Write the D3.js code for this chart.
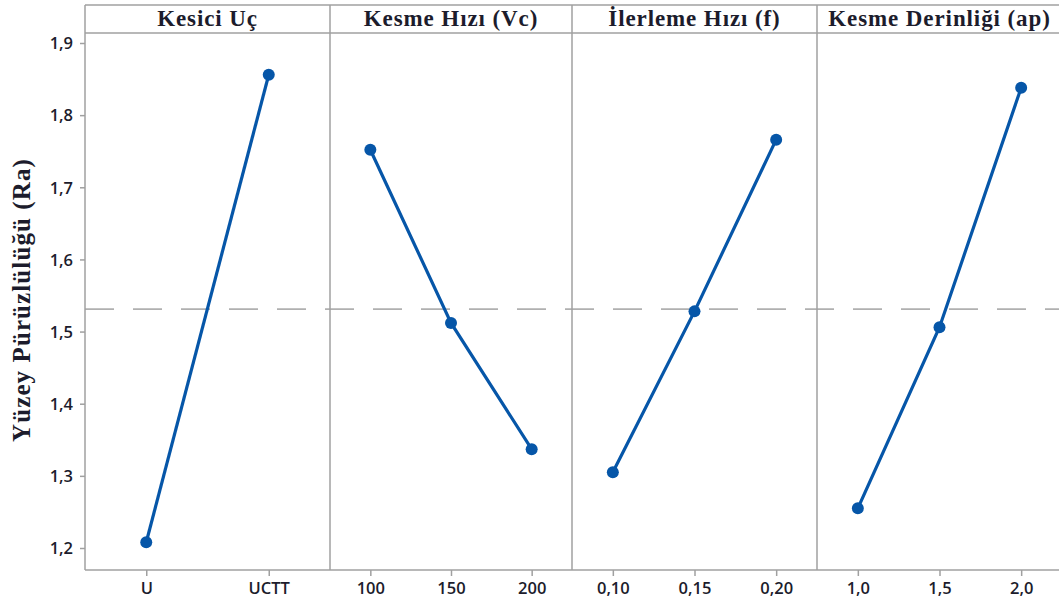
<!DOCTYPE html>
<html><head><meta charset="utf-8">
<script src="https://cdn.jsdelivr.net/npm/d3@7"></script>
<style>body{margin:0;background:#fff}</style>
</head><body>
<svg id="c" width="1059" height="606"></svg>
<script>
const panelTitles = ["Kesici Uç", "Kesme Hızı (Vc)", "İlerleme Hızı (f)", "Kesme Derinliği (ap)"];
const levels1 = ["U", "UCTT"];
const levels2 = ["100", "150", "200"];
const levels3 = ["0,10", "0,15", "0,20"];
const levels4 = ["1,0", "1,5", "2,0"];
const means1 = [1.208, 1.856];
const means2 = [1.752, 1.512, 1.337];
const means3 = [1.305, 1.528, 1.766];
const means4 = [1.255, 1.506, 1.838];
const overallMean = 1.531;
const yTicks = [1.2, 1.3, 1.4, 1.5, 1.6, 1.7, 1.8, 1.9];
const yTitle = "Yüzey Pürüzlülüğü (Ra)";

const panels = [
  {title: panelTitles[0], levels: levels1, means: means1},
  {title: panelTitles[1], levels: levels2, means: means2},
  {title: panelTitles[2], levels: levels3, means: means3},
  {title: panelTitles[3], levels: levels4, means: means4}
];

const svg = d3.select("#c");
const frameTop = 5, headerBottom = 33, frameBottom = 570;
const edges = [85, 330, 572, 817, 1062];
const y = d3.scaleLinear().domain([1.2, 1.9]).range([548, 43]);
const axisCol = "#a0a0a0";
const blue = "#0656a8";
const textCol = "#1c1c2c";

// mean dashed line
svg.append("line").attr("x1", edges[0]).attr("x2", 1062)
  .attr("y1", y(overallMean)).attr("y2", y(overallMean))
  .attr("stroke", "#b0b0b0").attr("stroke-width", 1.8).attr("stroke-dasharray", "29,19");

// y axis
const yAxis = d3.axisLeft(y).tickValues(yTicks).tickSize(5)
  .tickFormat(d => d3.format(".1f")(d).replace(".", ","));
const gy = svg.append("g").attr("transform", `translate(${edges[0]},0)`).call(yAxis);
gy.select(".domain").remove();
gy.selectAll(".tick line").attr("stroke", axisCol).attr("stroke-width", 1.5);
gy.selectAll(".tick text").attr("fill", textCol).attr("font-family", "Open Sans")
  .attr("font-weight", 600).attr("font-size", 16.5).attr("x", -12).attr("dy", "0.35em");

// y title
svg.append("text").attr("transform", "translate(30,300) rotate(-90)")
  .attr("text-anchor", "middle").attr("font-family", "Liberation Serif")
  .attr("font-weight", "bold").attr("font-size", 25).attr("letter-spacing", 1.1)
  .attr("fill", textCol).text(yTitle);

panels.forEach((p, i) => {
  const x = d3.scalePoint().domain(p.levels).range([edges[i], edges[i+1]]).padding(0.5);
  const xAxis = d3.axisBottom(x).tickSize(6);
  const gx = svg.append("g").attr("transform", `translate(0,${frameBottom})`).call(xAxis);
  gx.select(".domain").remove();
  gx.selectAll(".tick line").attr("stroke", axisCol).attr("stroke-width", 1.5);
  gx.selectAll(".tick text").attr("fill", textCol).attr("font-family", "Open Sans")
    .attr("font-weight", 600).attr("font-size", 16.5).attr("y", 12).attr("dy", "0.71em");

  svg.append("text").attr("x", (edges[i] + edges[i+1]) / 2).attr("y", 26)
    .attr("text-anchor", "middle").attr("font-family", "Liberation Serif")
    .attr("font-weight", "bold").attr("font-size", 23).attr("letter-spacing", 0.9)
    .attr("fill", textCol).text(p.title);

  const pts = p.levels.map((l, k) => [x(l), y(p.means[k])]);
  svg.append("path").attr("d", d3.line()(pts)).attr("fill", "none")
    .attr("stroke", blue).attr("stroke-width", 3.2);
  svg.selectAll(null).data(pts).enter().append("circle")
    .attr("cx", d => d[0]).attr("cy", d => d[1]).attr("r", 6).attr("fill", blue);
});

// frame
const fr = svg.append("g").attr("stroke", axisCol).attr("stroke-width", 1.5).attr("fill", "none");
fr.append("line").attr("x1", edges[0]).attr("x2", 1062).attr("y1", frameTop).attr("y2", frameTop);
fr.append("line").attr("x1", edges[0]).attr("x2", 1062).attr("y1", headerBottom).attr("y2", headerBottom);
fr.append("line").attr("x1", edges[0]).attr("x2", 1062).attr("y1", frameBottom).attr("y2", frameBottom);
edges.forEach(e => fr.append("line").attr("x1", e).attr("x2", e).attr("y1", frameTop).attr("y2", frameBottom));
</script>
</body></html>
